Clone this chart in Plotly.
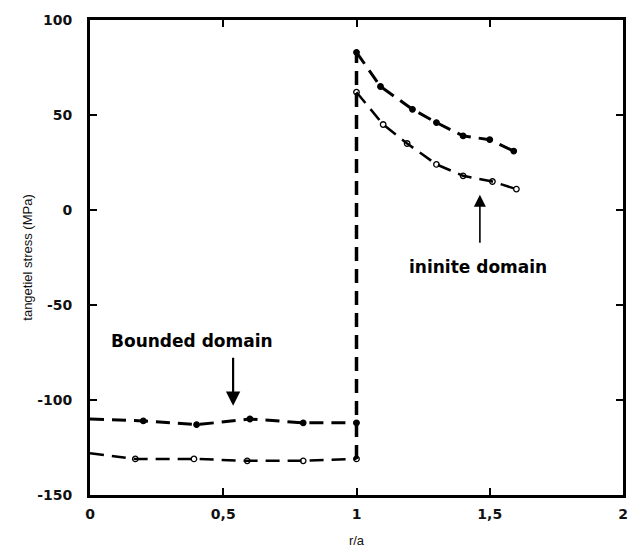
import plotly.graph_objects as go

# Tangential stress vs normalised radius r/a
# Upper curve: filled markers, lower curve: open markers
r_upper = [0.0, 0.2, 0.4, 0.6, 0.8, 1.0, 1.0, 1.09, 1.21, 1.3, 1.4, 1.5, 1.59]
s_upper = [-110, -111, -113, -110, -112, -112, 83, 65, 53, 46, 39, 37, 31]

r_lower = [0.0, 0.17, 0.39, 0.59, 0.8, 1.0, 1.0, 1.1, 1.19, 1.3, 1.4, 1.51, 1.6]
s_lower = [-128, -131, -131, -132, -132, -131, 62, 45, 35, 24, 18, 15, 11]

x_ticks = [0, 0.5, 1, 1.5, 2]
x_tick_text = ["0", "0,5", "1", "1,5", "2"]
y_ticks = [-150, -100, -50, 0, 50, 100]
y_tick_text = ["-150", "-100", "-50", "0", "50", "100"]

label_bounded = "Bounded domain"
label_infinite = "ininite domain"

# index of the first point past the interface r/a = 1
JUMP = 6

fig = go.Figure()

dash = "14px,8px"
for r, s, filled, lw in [(r_upper, s_upper, True, 3), (r_lower, s_lower, False, 2.5)]:
    # the two branches; the jump at the interface is drawn once, below
    fig.add_trace(go.Scatter(
        x=r[:JUMP] + [None] + r[JUMP:], y=s[:JUMP] + [None] + s[JUMP:],
        mode="lines", connectgaps=False,
        line=dict(color="black", width=lw, dash=dash),
        showlegend=False, hoverinfo="skip",
    ))

# shared vertical jump at the interface
fig.add_trace(go.Scatter(
    x=[r_lower[JUMP - 1], r_upper[JUMP]],
    y=[s_lower[JUMP - 1], s_upper[JUMP]],
    mode="lines", line=dict(color="black", width=3.5, dash=dash),
    showlegend=False, hoverinfo="skip",
))

for r, s, filled in [(r_upper, s_upper, True), (r_lower, s_lower, False)]:
    fig.add_trace(go.Scatter(
        x=r[1:], y=s[1:], mode="markers",
        marker=dict(
            symbol="circle" if filled else "circle-open",
            size=5.5, color="black",
            line=dict(color="black", width=1.3),
        ),
        showlegend=False,
    ))

tick_font = dict(family="DejaVu Sans", size=14, color="#111111", weight="bold")
title_font = dict(family="Liberation Sans", size=13, color="#111111")

fig.update_layout(
    width=640, height=559,
    margin=dict(l=90, r=17, t=17, b=60),
    plot_bgcolor="white", paper_bgcolor="white",
    xaxis=dict(
        range=[0, 2], tickvals=x_ticks, ticktext=x_tick_text,
        ticks="inside", ticklen=7, tickwidth=2, tickcolor="black",
        showline=True, linecolor="black", linewidth=3, mirror="ticks",
        showgrid=False, zeroline=False, tickfont=tick_font,
        ticklabelstandoff=4,
        title=dict(text="r/a", font=title_font, standoff=16),
    ),
    yaxis=dict(
        range=[-150, 100], tickvals=y_ticks, ticktext=y_tick_text,
        ticks="inside", ticklen=7, tickwidth=2, tickcolor="black",
        showline=True, linecolor="black", linewidth=3, mirror="ticks",
        showgrid=False, zeroline=False, tickfont=tick_font,
        ticklabelstandoff=12,
        title=dict(text="tangetiel stress (MPa)", font=title_font, standoff=2),
    ),
)

ann_font = dict(family="DejaVu Sans", size=17, color="black", weight="bold")

fig.add_annotation(x=0.381, y=-69, text=label_bounded, showarrow=False, font=ann_font)
fig.add_annotation(x=0.537, y=-103, ax=0.537, ay=-77, xref="x", yref="y",
                   axref="x", ayref="y", text="", showarrow=True,
                   arrowhead=2, arrowsize=1.3, arrowwidth=2.2, arrowcolor="black")

fig.add_annotation(x=1.456, y=-30, text=label_infinite, showarrow=False, font=ann_font)
fig.add_annotation(x=1.463, y=8, ax=1.463, ay=-18, xref="x", yref="y",
                   axref="x", ayref="y", text="", showarrow=True,
                   arrowhead=2, arrowsize=1.5, arrowwidth=1.6, arrowcolor="black")

fig.write_html("out.html")
